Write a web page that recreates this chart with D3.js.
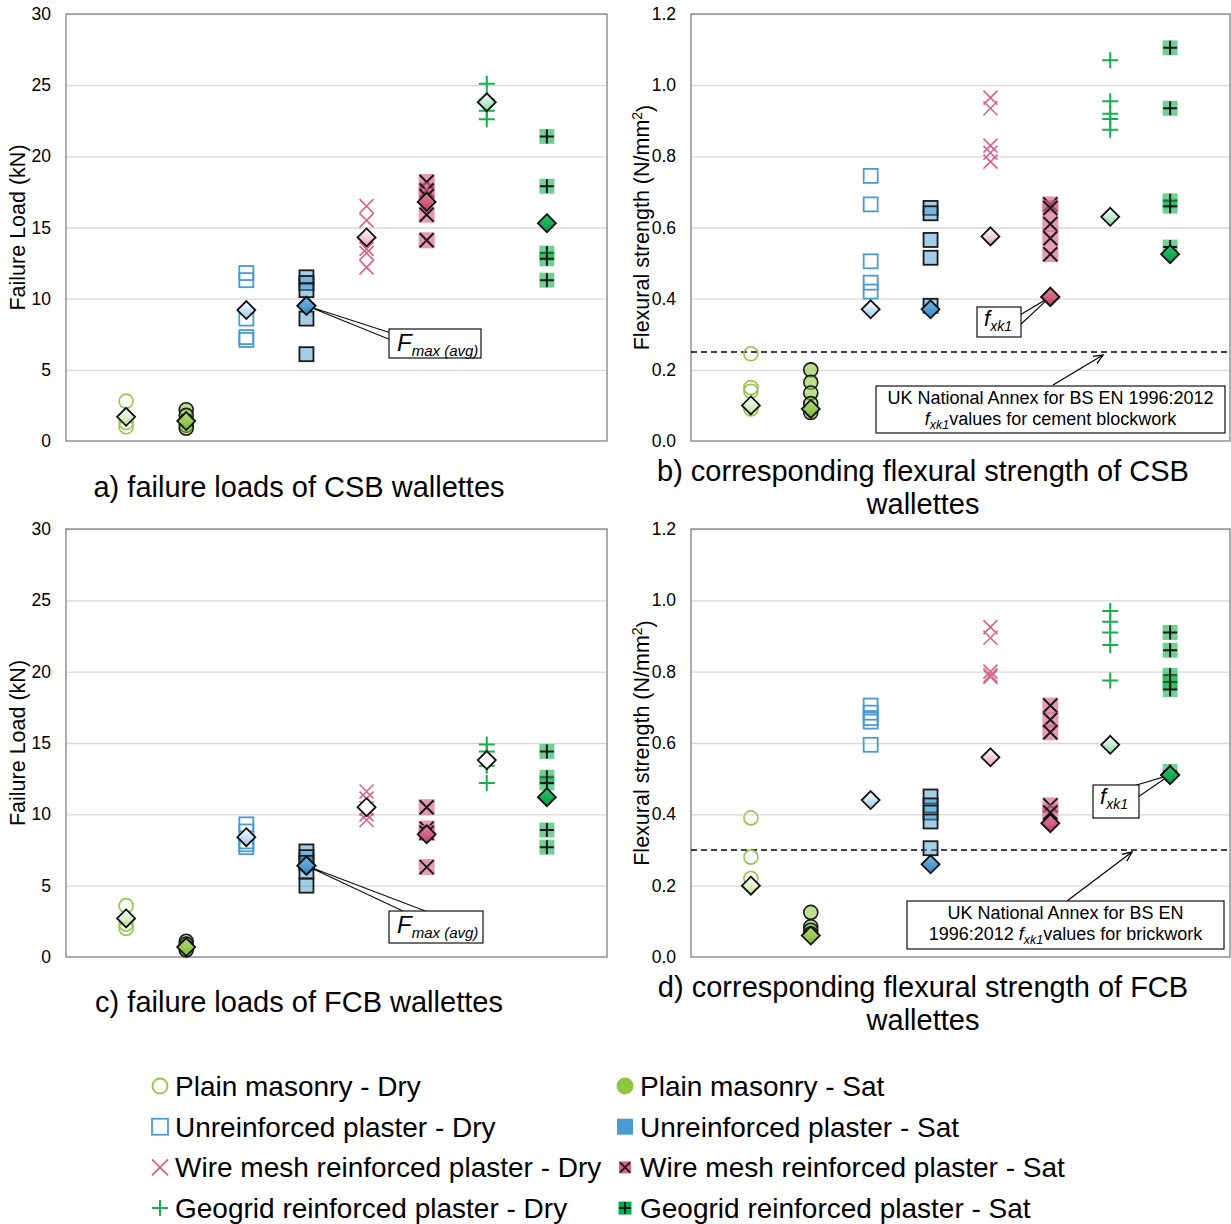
<!DOCTYPE html>
<html>
<head>
<meta charset="utf-8">
<script src="https://d3js.org/d3.v7.min.js"></script>
<style>
  body { margin: 0; background: white; }
  text { font-family: "Liberation Sans", Arial, sans-serif; fill: #000; }
</style>
</head>
<body>
<svg id="chart" width="1231" height="1224"></svg>
<script>
// ---- data ----
const categories = ["Plain masonry - Dry", "Plain masonry - Sat",
  "Unreinforced plaster - Dry", "Unreinforced plaster - Sat",
  "Wire mesh reinforced plaster - Dry", "Wire mesh reinforced plaster - Sat",
  "Geogrid reinforced plaster - Dry", "Geogrid reinforced plaster - Sat"];

const loadTicks = [0, 5, 10, 15, 20, 25, 30];
const strengthTicks = [0, 0.2, 0.4, 0.6, 0.8, 1.0, 1.2];

// a) CSB failure loads (kN)
const loadCSB = [
  [2.8, 1.3, 1.0],
  [2.2, 1.8, 1.4, 1.1, 0.9],
  [11.8, 11.3, 8.6, 7.3, 7.1],
  [11.5, 11.1, 10.6, 8.6, 6.1],
  [16.5, 15.5, 13.5, 13.2, 12.2],
  [18.2, 17.6, 17.2, 15.9, 14.1],
  [25.1, 24.0, 23.2, 22.6],
  [21.4, 17.9, 13.2, 12.8, 11.3]
];
const loadCSBAvg = [1.7, 1.4, 9.2, 9.5, 14.3, 16.8, 23.8, 15.3];

// b) CSB flexural strength (N/mm2)
const strengthCSB = [
  [0.245, 0.15, 0.14, 0.09],
  [0.2, 0.165, 0.135, 0.105, 0.08],
  [0.745, 0.665, 0.505, 0.445, 0.42],
  [0.655, 0.64, 0.565, 0.515, 0.38],
  [0.965, 0.935, 0.83, 0.81, 0.785],
  [0.665, 0.655, 0.61, 0.57, 0.525],
  [1.07, 0.955, 0.92, 0.905, 0.875],
  [1.105, 0.935, 0.675, 0.66, 0.545]
];
const strengthCSBfxk1 = [0.1, 0.09, 0.37, 0.37, 0.575, 0.405, 0.63, 0.525];
const nationalAnnexCSB = 0.25;

// c) FCB failure loads (kN)
const loadFCB = [
  [3.6, 2.3, 2.0],
  [1.1, 0.9, 0.7, 0.5],
  [9.3, 8.8, 8.1, 7.9, 7.7],
  [7.4, 7.0, 6.6, 6.0, 5.0],
  [11.6, 11.1, 10.4, 10.0, 9.6],
  [10.5, 9.0, 8.7, 6.3],
  [14.9, 14.4, 13.9, 13.4, 12.2],
  [14.4, 12.6, 12.2, 8.9, 7.7]
];
const loadFCBAvg = [2.7, 0.7, 8.4, 6.4, 10.5, 8.6, 13.8, 11.2];

// d) FCB flexural strength (N/mm2)
const strengthFCB = [
  [0.39, 0.28, 0.22],
  [0.125, 0.085, 0.075, 0.065],
  [0.705, 0.685, 0.67, 0.66, 0.595],
  [0.45, 0.425, 0.405, 0.38, 0.305],
  [0.925, 0.895, 0.8, 0.79, 0.785],
  [0.705, 0.665, 0.63, 0.425, 0.405],
  [0.97, 0.94, 0.91, 0.875, 0.775],
  [0.91, 0.86, 0.79, 0.77, 0.75, 0.52]
];
const strengthFCBfxk1 = [0.2, 0.06, 0.44, 0.26, 0.56, 0.375, 0.595, 0.51];
const nationalAnnexFCB = 0.3;

// ---- styles ----
const shapes = ["circle", "circle", "square", "square", "x", "x", "plus", "plus"];
const colors = ["#92c84a", "#92c84a", "#4a9bd2", "#4a9bd2", "#d6648c", "#d6648c", "#16b04f", "#16b04f"];
const diamondTop = ["#ffffff", "#b7da7e", "#ffffff", "#7ab7e2", "#ffffff", "#e0839f", "#ffffff", "#2fc06a"];
const diamondBottom = ["#c3dd9b", "#7cb82f", "#9cc6e8", "#2f86c4", "#e3a5b9", "#bd3f67", "#86d7a5", "#009a46"];

const svg = d3.select("#chart");
const defs = svg.append("defs");

categories.forEach((c, i) => {
  const lg = defs.append("linearGradient").attr("id", "dg" + i)
    .attr("x1", 0).attr("y1", 0).attr("x2", 0).attr("y2", 1);
  lg.append("stop").attr("offset", "0%").attr("stop-color", diamondTop[i]);
  lg.append("stop").attr("offset", "100%").attr("stop-color", diamondBottom[i]);
});

defs.append("marker").attr("id", "arrow")
  .attr("viewBox", "0 0 10 10").attr("refX", 9).attr("refY", 5)
  .attr("markerWidth", 9).attr("markerHeight", 9).attr("orient", "auto")
  .append("path").attr("d", "M0,1 L9,5 L0,9").attr("fill", "none")
  .attr("stroke", "#000").attr("stroke-width", 1.2);

function drawMarker(g, i, cx, cy) {
  const col = colors[i];
  const sat = i % 2 === 1;
  const s = shapes[i];
  if (s === "circle") {
    g.append("circle").attr("cx", cx).attr("cy", cy).attr("r", 7)
      .attr("fill", sat ? col : "none").attr("fill-opacity", sat ? 0.6 : 0)
      .attr("stroke", sat ? "#1a1a1a" : col).attr("stroke-width", 1.6);
  } else if (s === "square") {
    g.append("rect").attr("x", cx - 7).attr("y", cy - 7).attr("width", 14).attr("height", 14)
      .attr("fill", sat ? col : "none").attr("fill-opacity", sat ? 0.5 : 0)
      .attr("stroke", sat ? "#1a1a1a" : col).attr("stroke-width", 1.8);
  } else if (s === "x") {
    const d = 7;
    if (sat) g.append("rect").attr("x", cx - 8).attr("y", cy - 8).attr("width", 16).attr("height", 16)
      .attr("fill", col).attr("fill-opacity", 0.65);
    g.append("path").attr("d", `M${cx - d},${cy - d}L${cx + d},${cy + d}M${cx - d},${cy + d}L${cx + d},${cy - d}`)
      .attr("stroke", sat ? "#1a1a1a" : col).attr("stroke-width", sat ? 2 : 1.6).attr("fill", "none");
  } else {
    const d = sat ? 7 : 8;
    if (sat) g.append("rect").attr("x", cx - 7.5).attr("y", cy - 7.5).attr("width", 15).attr("height", 15)
      .attr("fill", col).attr("fill-opacity", 0.6);
    g.append("path").attr("d", `M${cx - d},${cy}L${cx + d},${cy}M${cx},${cy - d}L${cx},${cy + d}`)
      .attr("stroke", sat ? "#1a1a1a" : col).attr("stroke-width", 2).attr("fill", "none");
  }
}

function drawDiamond(g, i, cx, cy, open) {
  const r = 9;
  g.append("path").attr("d", `M${cx},${cy - r}L${cx + r},${cy}L${cx},${cy + r}L${cx - r},${cy}Z`)
    .attr("fill", open ? "white" : `url(#dg${i})`).attr("stroke", "#111").attr("stroke-width", 1.8);
}

// text with italic main letter and italic subscript
function subLabel(g, x, y, main, sub, mainSize, subSize, anchor) {
  const t = g.append("text").attr("x", x).attr("y", y).attr("text-anchor", anchor || "start")
    .style("font-style", "italic");
  t.append("tspan").style("font-size", mainSize + "px").text(main);
  t.append("tspan").attr("dy", subSize * 0.35).style("font-size", subSize + "px").text(sub);
  return t;
}

const panels = [
  { data: loadCSB, avg: loadCSBAvg, ticks: loadTicks, max: 30, fmt: d3.format("d"),
    left: 66, right: 607, top: 14, bottom: 441, ylabel: "Failure Load (kN)", labelX: 17, open: [] },
  { data: strengthCSB, avg: strengthCSBfxk1, ticks: strengthTicks, max: 1.2, fmt: d3.format(".1f"),
    left: 691, right: 1230, top: 14, bottom: 441, ylabel: "Flexural strength (N/mm", labelX: 641,
    guide: nationalAnnexCSB, open: [] },
  { data: loadFCB, avg: loadFCBAvg, ticks: loadTicks, max: 30, fmt: d3.format("d"),
    left: 66, right: 607, top: 529, bottom: 957, ylabel: "Failure Load (kN)", labelX: 17, open: [4, 6] },
  { data: strengthFCB, avg: strengthFCBfxk1, ticks: strengthTicks, max: 1.2, fmt: d3.format(".1f"),
    left: 691, right: 1230, top: 529, bottom: 957, ylabel: "Flexural strength (N/mm", labelX: 641,
    guide: nationalAnnexFCB, open: [] }
];

panels.forEach((p, pi) => {
  const w = p.right - p.left, h = p.bottom - p.top;
  const g = svg.append("g").attr("transform", `translate(${p.left},${p.top})`);
  const x = d3.scalePoint().domain(d3.range(categories.length)).range([0, w]).padding(1);
  const y = d3.scaleLinear().domain([0, p.max]).range([h, 0]);
  p.x = x; p.y = y; p.g = g;

  // gridlines
  g.append("g").call(d3.axisLeft(y).tickValues(p.ticks.slice(1)).tickSize(-w).tickFormat(""))
    .call(a => a.select(".domain").remove())
    .selectAll("line").attr("stroke", "#d9d9d9").attr("stroke-width", 1.3);

  // frame
  g.append("rect").attr("width", w).attr("height", h).attr("fill", "none")
    .attr("stroke", "#8a8a8a").attr("stroke-width", 1.4);

  // tick labels
  g.append("g").call(d3.axisLeft(y).tickValues(p.ticks).tickSize(0).tickPadding(15).tickFormat(p.fmt))
    .call(a => a.select(".domain").remove())
    .selectAll("text").style("font-size", "17.5px").attr("fill", "#000")
    .style("font-family", "'Liberation Sans', Arial, sans-serif");

  // y label
  const yl = svg.append("text")
    .attr("transform", `translate(${p.labelX},${p.top + h / 2}) rotate(-90)`)
    .attr("text-anchor", "middle").attr("dy", "0.35em").style("font-size", "21.5px");
  yl.append("tspan").text(p.ylabel);
  if (pi % 2 === 1) {
    yl.append("tspan").attr("dy", "-0.45em").style("font-size", "14px").text("2");
    yl.append("tspan").attr("dy", "0.45em").text(")");
  }

  // guide line
  if (p.guide !== undefined) {
    g.append("line").attr("x1", 0).attr("x2", w).attr("y1", y(p.guide)).attr("y2", y(p.guide))
      .attr("stroke", "#000").attr("stroke-width", 1.6).attr("stroke-dasharray", "6,4");
  }

  // points
  const pts = g.append("g");
  p.data.forEach((vals, i) => vals.forEach(v => drawMarker(pts, i, x(i), y(v))));
  const dia = g.append("g");
  p.avg.forEach((v, i) => drawDiamond(dia, i, x(i), y(v), p.open.includes(i)));
});

// ---- callouts ----
function callout(p, idx, box, base, kind) {
  const g = p.g;
  const tx = p.x(idx), ty = p.y(p.avg[idx]);
  const c = g.append("g");
  c.append("path")
    .attr("d", `M${base[0][0] - p.left},${base[0][1] - p.top}L${tx},${ty}L${base[1][0] - p.left},${base[1][1] - p.top}`)
    .attr("fill", "white").attr("stroke", "#111").attr("stroke-width", 1.2);
  c.append("rect").attr("x", box[0] - p.left).attr("y", box[1] - p.top).attr("width", box[2]).attr("height", box[3])
    .attr("fill", "white").attr("stroke", "#111").attr("stroke-width", 1.2);
  if (kind === "F") subLabel(c, box[0] - p.left + 8, box[1] - p.top + 22, "F", "max (avg)", 24, 15);
  else subLabel(c, box[0] - p.left + 7, box[1] - p.top + 19, "f", "xk1", 22, 14);
  // redraw target diamond on top of wedge tip
  drawDiamond(g, idx, tx, ty, false);
}
callout(panels[0], 3, [389, 329, 92, 29], [[391, 333], [391, 340]], "F");
callout(panels[2], 3, [389, 911, 94, 32], [[405, 912], [428, 912]], "F");
callout(panels[1], 5, [977, 307, 44, 30], [[1020, 315], [1020, 325]], "f");
callout(panels[3], 7, [1093, 785, 46, 33], [[1133, 786], [1138, 797]], "f");

// ---- National Annex notes ----
function note(box, lines, arrowFrom, arrowTo) {
  const g = svg.append("g");
  g.append("line").attr("x1", arrowFrom[0]).attr("y1", arrowFrom[1]).attr("x2", arrowTo[0]).attr("y2", arrowTo[1])
    .attr("stroke", "#000").attr("stroke-width", 1.2).attr("marker-end", "url(#arrow)");
  g.append("rect").attr("x", box[0]).attr("y", box[1]).attr("width", box[2]).attr("height", box[3])
    .attr("fill", "white").attr("stroke", "#111").attr("stroke-width", 1.2);
  const cx = box[0] + box[2] / 2;
  lines.forEach((ln, k) => {
    const t = g.append("text").attr("x", cx).attr("y", box[1] + 18 + k * 21)
      .attr("text-anchor", "middle").style("font-size", "18px");
    ln.forEach(seg => {
      const ts = t.append("tspan").text(seg.t);
      if (seg.i) ts.style("font-style", "italic");
      if (seg.sub) ts.attr("dy", 4).style("font-size", "12.5px").style("font-style", "italic");
      if (seg.back) ts.attr("dy", -4);
    });
  });
}
note([876, 386, 349, 47],
  [[{ t: "UK National Annex for BS EN 1996:2012" }],
   [{ t: "f", i: true }, { t: "xk1", sub: true }, { t: "values for cement blockwork", back: true }]],
  [1053, 385], [1103, 355]);
note([907, 901, 317, 48],
  [[{ t: "UK National Annex for BS EN" }],
   [{ t: "1996:2012 " }, { t: "f", i: true }, { t: "xk1", sub: true }, { t: "values for brickwork", back: true }]],
  [1067, 901], [1132, 852]);

// ---- panel titles ----
const titles = [
  { x: 299, y: 497, lines: ["a) failure loads of CSB wallettes"] },
  { x: 923, y: 481, lines: ["b) corresponding flexural strength of CSB", "wallettes"] },
  { x: 299, y: 1012, lines: ["c) failure loads of FCB wallettes"] },
  { x: 923, y: 997, lines: ["d) corresponding flexural strength of FCB", "wallettes"] }
];
titles.forEach(t => t.lines.forEach((ln, k) => {
  svg.append("text").attr("x", t.x).attr("y", t.y + k * 33).attr("text-anchor", "middle")
    .style("font-size", "29px").text(ln);
}));

// ---- legend ----
const legend = svg.append("g");
categories.forEach((c, i) => {
  const col = i % 2, row = Math.floor(i / 2);
  const sx = col === 0 ? 160 : 625, sy = 1086 + row * 40.7;
  const sat = i % 2 === 1, color = colors[i], s = shapes[i];
  if (s === "circle") {
    legend.append("circle").attr("cx", sx).attr("cy", sy).attr("r", sat ? 8.5 : 7.5)
      .attr("fill", sat ? "#8dc63f" : "none").attr("stroke", sat ? "none" : color).attr("stroke-width", 1.8);
  } else if (s === "square") {
    legend.append("rect").attr("x", sx - 8).attr("y", sy - 8).attr("width", 16).attr("height", 16)
      .attr("fill", sat ? color : "none").attr("stroke", sat ? "none" : color).attr("stroke-width", 1.8);
  } else if (s === "x") {
    const d = sat ? 5 : 8;
    if (sat) legend.append("rect").attr("x", sx - 6).attr("y", sy - 6).attr("width", 12).attr("height", 12).attr("fill", color);
    legend.append("path").attr("d", `M${sx - d},${sy - d}L${sx + d},${sy + d}M${sx - d},${sy + d}L${sx + d},${sy - d}`)
      .attr("stroke", sat ? "#1a1a1a" : color).attr("stroke-width", sat ? 2 : 1.8);
  } else {
    const d = sat ? 6 : 8;
    if (sat) legend.append("rect").attr("x", sx - 6.5).attr("y", sy - 6.5).attr("width", 13).attr("height", 13).attr("fill", "#00b04f");
    legend.append("path").attr("d", `M${sx - d},${sy}L${sx + d},${sy}M${sx},${sy - d}L${sx},${sy + d}`)
      .attr("stroke", sat ? "#1a1a1a" : color).attr("stroke-width", 2);
  }
  legend.append("text").attr("x", sx + 15).attr("y", sy + 10).style("font-size", "28px").text(c);
});
</script>
</body>
</html>
